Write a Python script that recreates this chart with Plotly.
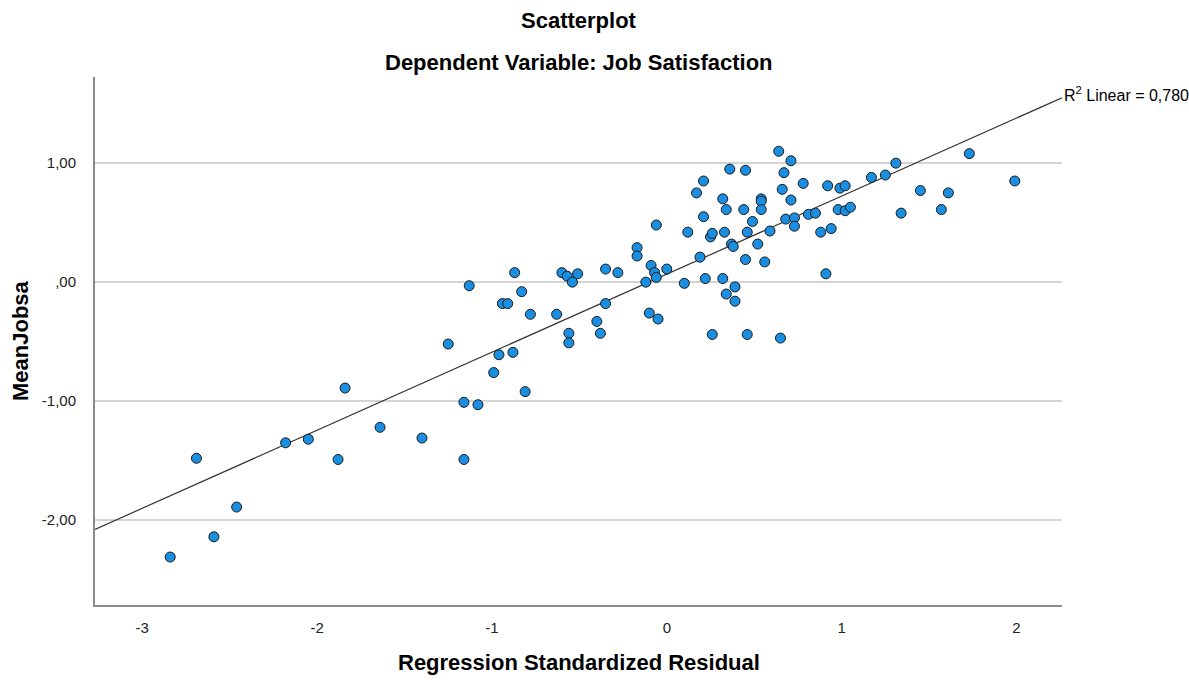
import numpy as np
import plotly.graph_objects as go

# Regression standardized residual (x) and MeanJobsa (y)
residual = [
    -2.84, -2.69, -2.59, -2.46, -2.18, -2.05, -1.88, -1.84, -1.64, -1.40,
    -1.25, -1.16, -1.08, -1.16, -0.99, -0.96, -0.88, -0.81, -1.13, -0.87,
    -0.94, -0.91, -0.83, -0.78, -0.63, -0.60, -0.57, -0.51, -0.54, -0.56,
    -0.56, -0.35, -0.28, -0.35, -0.40, -0.38, -0.17, -0.17, -0.09, -0.07,
    -0.06, 0.00, -0.12, -0.10, -0.05, -0.06, 0.12, 0.10, 0.19, 0.21,
    0.21, 0.17, 0.22, 0.25, 0.26, 0.33, 0.32, 0.34, 0.36, 0.37,
    0.38, 0.32, 0.39, 0.34, 0.39, 0.26, 0.46, 0.45, 0.44, 0.49,
    0.52, 0.45, 0.56, 0.54, 0.54, 0.54, 0.59, 0.46, 0.65, 0.64,
    0.71, 0.67, 0.66, 0.71, 0.68, 0.73, 0.73, 0.78, 0.81, 0.85,
    0.88, 0.94, 0.91, 0.92, 0.99, 1.02, 0.98, 1.02, 1.05, 1.17,
    1.25, 1.31, 1.34, 1.45, 1.57, 1.61, 1.73, 1.99,
]
jobsa = [
    -2.31, -1.48, -2.14, -1.89, -1.35, -1.32, -1.49, -0.89, -1.22, -1.31,
    -0.52, -1.01, -1.03, -1.49, -0.76, -0.61, -0.59, -0.92, -0.03, 0.08,
    -0.18, -0.18, -0.08, -0.27, -0.27, 0.08, 0.05, 0.07, 0.00, -0.43,
    -0.51, 0.11, 0.08, -0.18, -0.33, -0.43, 0.29, 0.22, 0.14, 0.08,
    0.04, 0.11, 0.00, -0.26, -0.31, 0.48, 0.42, -0.01, 0.21, 0.55,
    0.85, 0.75, 0.03, 0.38, 0.41, 0.42, 0.70, 0.61, 0.95, 0.32,
    0.30, 0.03, -0.04, -0.10, -0.16, -0.44, 0.42, 0.94, 0.61, 0.51,
    0.32, 0.19, 0.17, 0.70, 0.68, 0.61, 0.43, -0.44, -0.47, 1.10,
    1.02, 0.92, 0.78, 0.69, 0.53, 0.54, 0.47, 0.83, 0.57, 0.58,
    0.42, 0.45, 0.07, 0.81, 0.79, 0.81, 0.61, 0.60, 0.63, 0.88,
    0.90, 1.00, 0.58, 0.77, 0.61, 0.75, 1.08, 0.85,
]

x_range = [-3.27, 2.26]
y_range = [-2.713, 1.724]
xtick_vals = [-3, -2, -1, 0, 1, 2]
xtick_text = ["-3", "-2", "-1", "0", "1", "2"]
ytick_vals = [-2, -1, 0, 1]
ytick_text = ["-2,00", "-1,00", ",00", "1,00"]
title_main = "Scatterplot"
title_sub = "Dependent Variable: Job Satisfaction"
x_title = "Regression Standardized Residual"
y_title = "MeanJobsa"
r2_label = "R<sup>2</sup> Linear = 0,780"

FONT = "Arial, 'Liberation Sans', sans-serif"

slope, intercept = np.polyfit(residual, jobsa, 1)
fit_x = np.array(x_range)
fit_y = slope * fit_x + intercept

fig = go.Figure()
fig.add_trace(go.Scatter(
    x=fit_x, y=fit_y, mode="lines",
    line=dict(color="#333333", width=1.2),
    hoverinfo="skip", showlegend=False,
))
fig.add_trace(go.Scatter(
    x=residual, y=jobsa, mode="markers",
    marker=dict(size=10, color="#1a8ee0", line=dict(color="#1a1a1a", width=1)),
    showlegend=False,
))

W, H = 1189, 680
L, R, T, B = 95, 127, 77, 75
ph = H - T - B

def py(pix):
    return 1 + (T - pix) / ph

fig.update_layout(
    width=W, height=H,
    margin=dict(l=L, r=R, t=T, b=B),
    paper_bgcolor="white", plot_bgcolor="white",
    font=dict(family=FONT, color="#000000"),
    xaxis=dict(
        range=x_range, tickvals=xtick_vals, ticktext=xtick_text,
        showgrid=False, zeroline=False,
        showline=True, linecolor="#8a8a8a", linewidth=2,
        ticks="outside", ticklen=8, tickcolor="rgba(0,0,0,0)",
        tickfont=dict(size=15, family=FONT, color="#222222"),
    ),
    yaxis=dict(
        range=y_range, tickvals=ytick_vals, ticktext=ytick_text,
        showgrid=True, gridcolor="#d4d4d4", gridwidth=2, zeroline=False,
        showline=True, linecolor="#8a8a8a", linewidth=2,
        ticks="outside", ticklen=14, tickcolor="rgba(0,0,0,0)",
        tickfont=dict(size=15, family=FONT, color="#222222"),
    ),
    annotations=[
        dict(text=title_main, xref="paper", yref="paper", x=0.5, y=py(20),
             xanchor="center", yanchor="middle", showarrow=False,
             font=dict(size=22, family=FONT, color="#000000", weight="bold")),
        dict(text=title_sub, xref="paper", yref="paper", x=0.5, y=py(62),
             xanchor="center", yanchor="middle", showarrow=False,
             font=dict(size=22, family=FONT, color="#000000", weight="bold")),
        dict(text=x_title, xref="paper", yref="paper", x=0.5, y=py(662),
             xanchor="center", yanchor="middle", showarrow=False,
             font=dict(size=22, family=FONT, color="#000000", weight="bold")),
        dict(text=y_title, xref="paper", yref="paper", x=-(L - 20) / (W - L - R), y=0.5,
             xanchor="center", yanchor="middle", textangle=-90, showarrow=False,
             font=dict(size=22, family=FONT, color="#000000", weight="bold")),
        dict(text=r2_label, xref="x", yref="y", x=fit_x[1], y=fit_y[1],
             xanchor="left", yanchor="middle", yshift=4, showarrow=False,
             font=dict(size=16, family=FONT, color="#000000")),
    ],
)

fig.write_html("out.html")
